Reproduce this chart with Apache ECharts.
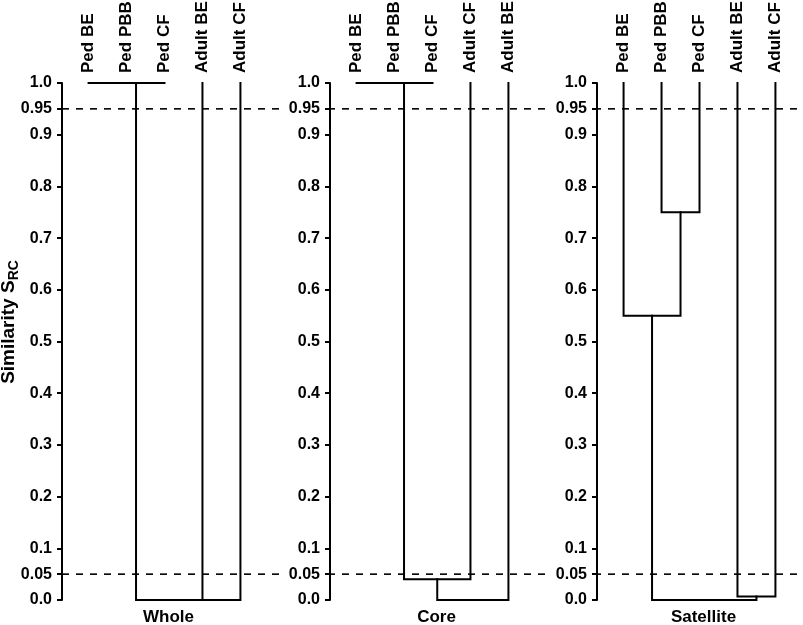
<!DOCTYPE html>
<html>
<head>
<meta charset="utf-8">
<script src="https://cdn.jsdelivr.net/npm/echarts@6/dist/echarts.min.js"></script>
<style>
  html, body { margin: 0; padding: 0; background: #fff; }
  #chart { width: 803px; height: 625px; }
</style>
</head>
<body>
<div id="chart"></div>
<script>
// similarity ticks shown on each panel
const yTicks = [0, 0.05, 0.1, 0.2, 0.3, 0.4, 0.5, 0.6, 0.7, 0.8, 0.9, 0.95, 1.0]
const cutoffs = [0.95, 0.05]
const panelNames = ['Whole', 'Core', 'Satellite']

// leaves (left to right) and merges [nodeA, nodeB, similarity], new nodes numbered after leaves
const leavesWhole = ['Ped BE', 'Ped PBB', 'Ped CF', 'Adult BE', 'Adult CF']
const linkWhole = [[0, 1, 1.0], [5, 2, 1.0], [6, 3, 0.0], [7, 4, 0.0]]
const leavesCore = ['Ped BE', 'Ped PBB', 'Ped CF', 'Adult CF', 'Adult BE']
const linkCore = [[0, 1, 1.0], [5, 2, 1.0], [6, 3, 0.04], [7, 4, 0.0]]
const leavesSat = ['Ped BE', 'Ped PBB', 'Ped CF', 'Adult BE', 'Adult CF']
const linkSat = [[1, 2, 0.75], [0, 5, 0.55], [3, 4, 0.007], [6, 7, 0.0]]

const panels = [
    { leaves: leavesWhole, link: linkWhole },
    { leaves: leavesCore, link: linkCore },
    { leaves: leavesSat, link: linkSat },
]

const FONT = 'Liberation Sans'
const gridLefts = [62, 330, 597]
const GRID_W = 205
const TOP = 83
const BOTTOM = 25

// one U-shaped path per merge
function dendroPaths(leaves, link) {
    const pos = leaves.map((_, i) => i + 1)
    const h = leaves.map(() => 1.0)
    const paths = []
    link.forEach(([a, b, s]) => {
        paths.push([[pos[a], h[a]], [pos[a], s], [pos[b], s], [pos[b], h[b]]])
        pos.push((pos[a] + pos[b]) / 2)
        h.push(s)
    })
    return paths
}

function tickLabel(v) {
    if (v === 0.05 || v === 0.95) return v.toFixed(2)
    return v.toFixed(1)
}

const grid = []
const xAxis = []
const yAxis = []
const series = []

panels.forEach((p, i) => {
    grid.push({ left: gridLefts[i], width: GRID_W, top: TOP, bottom: BOTTOM, outerBoundsMode: 'none' })
    // top axis carrying leaf names
    xAxis.push({
        type: 'value', gridIndex: i, position: 'top', min: 0.3, max: 5.7,
        axisLine: { show: false }, axisTick: { show: false }, splitLine: { show: false },
        axisLabel: {
            customValues: [1, 2, 3, 4, 5], rotate: 90, margin: 10,
            formatter: (v) => p.leaves[Math.round(v) - 1] || '',
            color: '#000', fontFamily: FONT, fontWeight: 'bold', fontSize: 17,
        },
    })
    yAxis.push({
        type: 'value', gridIndex: i, min: 0, max: 1, z: 5,
        axisLine: { show: true, lineStyle: { color: '#000', width: 2 } },
        axisTick: { show: true, customValues: yTicks, length: 5, lineStyle: { color: '#000', width: 2 } },
        splitLine: { show: false },
        axisLabel: {
            customValues: yTicks, margin: 8, formatter: tickLabel,
            color: '#000', fontFamily: FONT, fontWeight: 'bold', fontSize: 16,
            backgroundColor: '#fff', padding: [0, 2, 0, 4],
        },
    })
    dendroPaths(p.leaves, p.link).forEach((path) => {
        series.push({
            type: 'line', xAxisIndex: i, yAxisIndex: i, data: path,
            symbol: 'none', silent: true, z: 3,
            lineStyle: { color: '#000', width: 2, join: 'miter', cap: 'square' },
        })
    })
})

// bottom axes only for the panel names
panels.forEach((p, i) => {
    xAxis.push({
        type: 'value', gridIndex: i, position: 'bottom', min: 0.3, max: 5.7,
        name: panelNames[i], nameLocation: 'middle', nameGap: 9,
        nameTextStyle: { color: '#000', fontFamily: FONT, fontWeight: 'bold', fontSize: 17, padding: [0, 0, 0, 8] },
        axisLine: { show: false }, axisTick: { show: false }, axisLabel: { show: false }, splitLine: { show: false },
    })
})

// overlay grid spanning all panels for the dashed cut-off lines
grid.push({ left: gridLefts[0], right: 3, top: TOP, bottom: BOTTOM, outerBoundsMode: 'none' })
xAxis.push({ type: 'value', gridIndex: 3, min: 0, max: 1, show: false })
yAxis.push({ type: 'value', gridIndex: 3, min: 0, max: 1, show: false })
cutoffs.forEach((c) => {
    series.push({
        type: 'line', xAxisIndex: 6, yAxisIndex: 3, data: [[0, c], [1, c]],
        symbol: 'none', silent: true, z: 1,
        lineStyle: { color: '#000', width: 1.6, type: [7, 7] },
    })
})

const myChart = echarts.init(document.getElementById('chart'))
myChart.setOption({
    animation: false,
    backgroundColor: '#fff',
    grid,
    xAxis,
    yAxis,
    series,
    graphic: [{
        // y axis title, rotated to read bottom-to-top
        type: 'text', x: 9, y: 322, rotation: Math.PI / 2, silent: true,
        style: {
            text: '{a|Similarity S}{b|RC}',
            align: 'center', verticalAlign: 'middle',
            rich: {
                a: { fontFamily: FONT, fontWeight: 'bold', fontSize: 19, fill: '#000', lineHeight: 24, verticalAlign: 'middle' },
                b: { fontFamily: FONT, fontWeight: 'bold', fontSize: 14, fill: '#000', lineHeight: 14, verticalAlign: 'bottom' },
            },
        },
    }],
})
</script>
</body>
</html>
